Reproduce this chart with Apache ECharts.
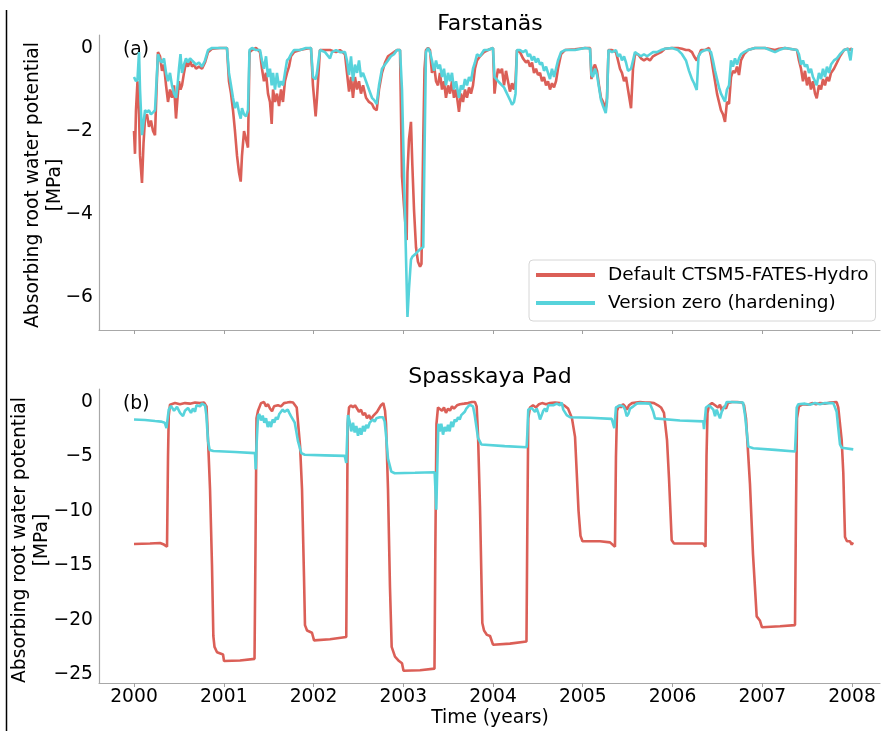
<!DOCTYPE html>
<html>
<head>
<meta charset="utf-8">
<script src="https://cdn.jsdelivr.net/npm/echarts@6/dist/echarts.min.js"></script>
<style>
html,body{margin:0;padding:0;background:#fff;}
#chart{width:882px;height:731px;}
</style>
</head>
<body>
<div id="chart"></div>
<script>
// ---------- DATA ----------
const seriesNames = ['Default CTSM5-FATES-Hydro', 'Version zero (hardening)'];
const panelTitles = ['Farstanäs', 'Spasskaya Pad'];
const panelTags = ['(a)', '(b)'];
const xLabel = 'Time (years)';
const yLabel = 'Absorbing root water potential\n[MPa]';
const xTicks = [2000, 2001, 2002, 2003, 2004, 2005, 2006, 2007, 2008];
const farTicks = [0, -2, -4, -6];
const spaTicks = [0, -5, -10, -15, -20, -25];

// Panel (a) Farstanäs: shared time (decimal years)
const farTime = [
2000.000,2000.011,2000.022,2000.039,2000.056,2000.067,2000.089,2000.106,2000.123,2000.145,2000.167,2000.189,2000.212,2000.234,2000.251,2000.267,2000.290,2000.312,2000.334,2000.357,2000.379,2000.401,2000.423,2000.446,2000.468,2000.485,2000.501,2000.518,2000.535,2000.557,2000.579,2000.602,2000.624,2000.646,2000.669,2000.691,2000.724,2000.758,2000.791,2000.825,2000.869,2000.958,
2001.036,2001.058,2001.081,2001.103,2001.125,2001.148,2001.170,2001.189,2001.203,2001.226,2001.248,2001.270,2001.287,2001.315,2001.359,2001.404,2001.426,2001.448,2001.471,2001.493,2001.515,2001.534,2001.549,2001.571,2001.593,2001.616,2001.638,2001.660,2001.682,2001.705,2001.727,2001.749,2001.783,2001.850,2001.916,2001.972,2001.994,
2002.024,2002.039,2002.056,2002.072,2002.128,2002.184,2002.206,2002.251,2002.295,2002.351,2002.373,2002.396,2002.418,2002.440,2002.462,2002.485,2002.507,2002.529,2002.552,2002.585,2002.618,2002.652,2002.674,2002.704,2002.730,2002.763,2002.797,2002.830,2002.863,2002.897,2002.930,2002.964,2002.986,
2003.008,2003.038,2003.047,2003.064,2003.086,2003.101,2003.120,2003.142,2003.164,2003.187,2003.203,2003.223,2003.237,2003.253,2003.276,2003.298,2003.320,2003.343,2003.365,2003.387,2003.409,2003.432,2003.454,2003.476,2003.499,2003.521,2003.543,2003.565,2003.588,2003.621,2003.643,2003.666,2003.688,2003.710,2003.733,2003.755,2003.777,2003.799,2003.822,2003.855,2003.900,2003.944,
2004.000,2004.017,2004.033,2004.056,2004.078,2004.100,2004.123,2004.145,2004.167,2004.189,2004.212,2004.234,2004.251,2004.267,2004.301,2004.334,2004.368,2004.390,2004.412,2004.435,2004.457,2004.479,2004.501,2004.524,2004.546,2004.568,2004.591,2004.613,2004.635,2004.657,2004.680,2004.702,2004.724,2004.758,2004.802,2004.914,
2005.025,2005.081,2005.097,2005.114,2005.136,2005.159,2005.181,2005.203,2005.226,2005.256,2005.270,2005.287,2005.326,2005.370,2005.393,2005.415,2005.437,2005.460,2005.482,2005.504,2005.538,2005.560,2005.582,2005.616,2005.649,2005.682,2005.716,2005.749,2005.783,2005.827,2005.872,2005.916,2005.994,
2006.061,2006.106,2006.150,2006.184,2006.217,2006.240,2006.270,2006.290,2006.318,2006.362,2006.407,2006.429,2006.451,2006.474,2006.496,2006.518,2006.540,2006.563,2006.585,2006.607,2006.630,2006.652,2006.674,2006.696,2006.719,2006.741,2006.763,2006.797,2006.841,2006.919,
2007.031,2007.142,2007.187,2007.253,2007.387,2007.409,2007.432,2007.454,2007.476,2007.499,2007.521,2007.543,2007.565,2007.588,2007.607,2007.632,2007.655,2007.677,2007.699,2007.721,2007.744,2007.766,2007.799,2007.833,2007.866,2007.911,2007.955,2007.983,2008.000
];
const farDefault = [
-2.0,-2.55,-1.5,-0.8,-1.6,-2.6,-3.25,-2.3,-1.7,-1.6,-1.9,-1.75,-2.0,-2.1,-1.0,-0.1,-0.2,-0.55,-0.4,-0.9,-1.3,-1.0,-1.2,-0.9,-1.7,-1.2,-0.8,-1.0,-0.9,-0.6,-0.35,-0.45,-0.3,-0.45,-0.4,-0.5,-0.45,-0.5,-0.35,-0.1,-0.02,0,
0,-0.8,-1.1,-1.5,-2.0,-2.6,-3.0,-3.22,-2.6,-2.0,-2.2,-2.4,-0.1,-0.05,0,-0.1,-0.5,-0.8,-0.6,-1.1,-1.3,-1.83,-1.0,-1.3,-1.1,-1.4,-1.0,-1.3,-0.8,-0.6,-0.45,-0.2,-0.1,-0.05,-0.02,0,-0.9,
-1.65,-1.2,-0.6,-0.05,-0.05,-0.05,-0.05,-0.1,-0.05,-0.15,-0.6,-1.05,-0.7,-1.2,-0.7,-1.0,-0.8,-1.1,-0.9,-1.2,-1.3,-1.35,-1.45,-1.5,-1.0,-0.6,-0.35,-0.2,-0.15,-0.1,-0.05,-0.05,-3.1,
-3.8,-4.63,-3.0,-2.2,-1.78,-2.8,-3.9,-4.8,-5.15,-5.27,-5.2,-2.2,-0.5,-0.05,0,-0.05,-0.6,-0.4,-0.8,-0.9,-0.6,-1.0,-0.8,-1.2,-0.9,-1.1,-0.8,-1.2,-1.0,-1.54,-1.1,-1.3,-1.0,-1.2,-0.95,-1.1,-0.9,-0.5,-0.3,-0.2,-0.1,-0.05,
0,-1.1,-0.8,-0.5,-0.6,-0.5,-0.9,-0.55,-0.8,-1.05,-0.85,-1.0,-0.8,-0.05,-0.1,-0.25,-0.35,-0.3,-0.45,-0.35,-0.6,-0.5,-0.65,-0.6,-0.8,-0.7,-0.9,-0.8,-1.0,-0.85,-0.95,-0.8,-0.5,-0.15,-0.05,-0.03,
0,0,-0.75,-0.5,-0.4,-0.55,-0.9,-1.2,-1.3,-1.45,-1.2,-0.05,-0.05,-0.1,-0.3,-0.5,-0.6,-0.8,-0.7,-1.0,-1.45,-0.5,-0.15,-0.15,-0.25,-0.3,-0.25,-0.3,-0.2,-0.15,-0.1,-0.02,0,
0,-0.02,-0.05,-0.05,-0.1,-0.2,-0.3,-0.2,-0.05,-0.05,0,-0.2,-0.5,-0.8,-1.1,-1.3,-1.5,-1.6,-1.78,-1.3,-1.35,-0.7,-0.55,-0.6,-0.45,-0.65,-0.3,-0.15,-0.05,0,
0,-0.05,-0.02,0,-0.05,-0.3,-0.5,-0.8,-0.55,-0.9,-0.7,-1.0,-0.8,-1.1,-1.21,-0.9,-1.0,-0.75,-0.9,-0.7,-0.8,-0.6,-0.5,-0.35,-0.2,-0.05,-0.02,-0.05,0
];
const farVersion = [
-0.7,-0.75,-0.8,-0.75,-0.1,-1.0,-2.1,-1.8,-1.5,-1.55,-1.5,-1.6,-1.55,-1.5,-0.8,-0.15,-0.3,-0.35,-0.25,-0.6,-0.8,-0.6,-0.9,-1.1,-1.2,-0.9,-0.5,-0.15,-0.6,-0.4,-0.25,-0.35,-0.25,-0.3,-0.35,-0.4,-0.35,-0.45,-0.3,-0.05,0,0,
0,-0.6,-0.9,-1.2,-1.45,-1.3,-1.55,-1.7,-1.45,-1.6,-1.65,-1.5,-0.05,0,-0.05,-0.05,-0.3,-0.5,-0.2,-0.7,-0.5,-0.9,-0.6,-1.0,-0.6,-0.95,-0.8,-0.9,-0.6,-0.3,-0.25,-0.15,-0.05,-0.05,0,0,-0.7,
-0.75,-0.6,-0.3,-0.05,-0.1,-0.25,-0.1,-0.05,-0.1,-0.1,-0.3,-0.65,-0.2,-0.8,-0.4,-0.6,-0.3,-0.7,-0.6,-0.8,-1.0,-1.2,-1.25,-1.35,-0.9,-0.5,-0.4,-0.3,-0.2,-0.15,-0.05,-0.05,-1.0,
-3.0,-5.7,-6.48,-5.8,-5.1,-5.03,-5.0,-4.95,-4.9,-4.85,-4.82,-4.8,-2.5,-0.1,0,-0.1,-0.3,-0.55,-0.3,-0.5,-0.4,-0.7,-0.5,-0.9,-0.6,-0.8,-0.6,-1.0,-0.8,-1.2,-0.9,-1.0,-0.75,-0.9,-0.7,-0.8,-0.5,-0.35,-0.15,-0.2,-0.05,-0.05,
0,-0.7,-0.73,-0.8,-0.85,-0.9,-0.95,-1.05,-1.15,-1.25,-1.37,-1.3,-1.1,-0.05,-0.05,-0.1,-0.05,-0.2,-0.15,-0.3,-0.2,-0.35,-0.25,-0.4,-0.35,-0.55,-0.45,-0.6,-0.75,-0.5,-0.7,-0.5,-0.3,-0.1,-0.05,-0.05,
0,-0.02,-0.65,-0.7,-0.5,-0.65,-0.95,-1.25,-1.4,-1.57,-1.3,-0.05,-0.1,-0.05,-0.2,-0.15,-0.3,-0.2,-0.35,-0.55,-0.5,-0.3,-0.1,-0.15,-0.2,-0.15,-0.2,-0.15,-0.1,-0.1,-0.05,-0.02,0,
-0.05,-0.15,-0.3,-0.55,-0.75,-0.85,-1.01,-0.2,-0.1,-0.05,-0.05,-0.1,-0.3,-0.55,-0.75,-0.95,-1.1,-1.2,-1.29,-1.0,-0.9,-0.3,-0.45,-0.25,-0.4,-0.25,-0.15,-0.1,-0.05,0,
0,-0.1,-0.05,0,-0.05,-0.15,-0.4,-0.3,-0.45,-0.4,-0.6,-0.5,-0.7,-0.8,-0.9,-0.6,-0.75,-0.5,-0.7,-0.45,-0.6,-0.4,-0.3,-0.25,-0.15,-0.05,-0.02,-0.3,0
];

// Panel (b) Spasskaya Pad
const spaTimeDefault = [
2000.000,2000.178,2000.290,2000.334,2000.368,2000.379,2000.387,2000.401,2000.457,2000.513,2000.568,2000.624,2000.680,2000.735,2000.780,2000.808,2000.825,2000.847,2000.869,2000.884,2000.897,2000.925,2000.992,
2001.003,2001.181,2001.343,2001.354,2001.365,2001.382,2001.415,2001.448,2001.471,2001.493,2001.515,2001.538,2001.560,2001.582,2001.604,2001.638,2001.671,2001.705,2001.738,2001.772,2001.794,2001.813,2001.850,2001.872,2001.894,2001.905,2001.928,2001.983,
2002.006,2002.184,2002.365,2002.373,2002.381,2002.396,2002.418,2002.440,2002.462,2002.485,2002.507,2002.529,2002.552,2002.574,2002.596,2002.618,2002.641,2002.663,2002.685,2002.708,2002.730,2002.752,2002.778,2002.797,2002.808,2002.830,2002.852,2002.871,2002.908,2002.953,2002.986,
2003.003,2003.187,2003.348,2003.357,2003.370,2003.387,2003.409,2003.432,2003.454,2003.476,2003.499,2003.521,2003.543,2003.565,2003.599,2003.632,2003.677,2003.721,2003.766,2003.799,2003.818,2003.833,2003.855,2003.881,2003.900,2003.933,2003.967,
2004.000,2004.189,2004.373,2004.382,2004.393,2004.412,2004.446,2004.479,2004.513,2004.546,2004.591,2004.635,2004.691,2004.746,2004.791,2004.836,2004.880,2004.914,2004.933,2004.953,2004.975,2004.997,
2005.192,2005.304,2005.359,2005.370,2005.382,2005.404,2005.426,2005.448,2005.471,2005.493,2005.515,2005.549,2005.593,2005.638,2005.694,2005.749,2005.794,2005.838,2005.872,2005.905,2005.939,2005.961,2005.991,
2006.017,2006.195,2006.340,2006.368,2006.379,2006.390,2006.407,2006.440,2006.474,2006.507,2006.529,2006.551,2006.574,2006.596,2006.618,2006.663,2006.719,2006.774,2006.797,2006.819,2006.863,2006.897,2006.938,2006.975,2006.997,
2007.198,2007.365,2007.376,2007.387,2007.409,2007.454,2007.510,2007.554,2007.599,2007.643,2007.699,2007.755,2007.829,2007.847,2007.885,2007.903,2007.922,2007.944,2007.978,2007.997,2008.011
];
const spaDefault = [
-13.05,-13.0,-12.95,-13.1,-13.3,-5.0,-1.3,-0.25,-0.1,-0.2,-0.1,-0.15,-0.05,-0.1,-0.05,-0.4,-3.5,-8.0,-15.0,-21.5,-22.5,-23.0,-23.2,
-23.8,-23.75,-23.6,-13.0,-1.5,-0.8,-0.1,0,-0.4,-0.2,-0.6,-0.85,-0.4,-0.55,-0.3,-0.4,-0.1,-0.05,0,-0.05,0,-0.5,-4.0,-8.0,-16.0,-20.5,-21.0,-21.2,
-21.9,-21.8,-21.6,-12.0,-2.0,-0.5,-0.3,-0.5,-0.3,-0.6,-0.9,-0.7,-1.2,-1.0,-1.5,-1.2,-1.6,-1.3,-1.4,-0.9,-0.6,-0.3,-0.1,-0.8,-2.0,-8.0,-17.0,-22.5,-23.4,-23.8,-24.0,
-24.7,-24.65,-24.5,-14.0,-2.0,-0.5,-0.4,-0.8,-0.5,-1.0,-0.6,-0.8,-0.4,-0.6,-0.3,-0.2,-0.15,-0.1,0,0,-0.4,-3.0,-9.6,-20.3,-21.0,-21.4,-21.5,
-22.3,-22.2,-22.0,-12.0,-1.5,-0.5,-0.3,-0.5,-0.2,-0.1,-0.2,-0.1,-0.05,-0.1,-0.3,-0.6,-1.5,-3.2,-6.5,-10.0,-12.3,-12.8,
-12.8,-12.9,-13.3,-5.0,-0.8,-0.3,-0.5,-0.2,-0.4,-0.7,-0.3,-0.1,-0.05,0,-0.05,-0.05,-0.1,-0.3,-0.5,-1.0,-3.5,-7.0,-12.7,
-13.0,-13.0,-13.0,-13.3,-5.0,-1.0,-0.3,-0.1,-0.3,-0.5,-0.25,-0.8,-0.4,-0.6,-0.1,0,0,-0.05,-0.3,-1.5,-7.5,-14.0,-19.7,-20.1,-20.7,
-20.6,-20.5,-10.0,-1.5,-0.4,-0.2,-0.25,-0.1,-0.2,-0.1,-0.15,-0.05,0,-0.5,-3.5,-6.5,-12.4,-12.8,-12.8,-13.1,-12.9
];
const spaTimeVersion = [
2000.000,2000.123,2000.234,2000.301,2000.342,2000.362,2000.387,2000.412,2000.446,2000.479,2000.513,2000.546,2000.568,2000.602,2000.635,2000.657,2000.680,2000.696,2000.735,2000.758,2000.769,2000.791,2000.806,2000.825,2000.843,2000.884,
2001.125,2001.348,2001.356,2001.365,2001.382,2001.396,2001.415,2001.434,2001.452,2001.471,2001.490,2001.508,2001.526,2001.545,2001.563,2001.582,2001.601,2001.619,2001.638,2001.657,2001.675,2001.694,2001.713,2001.730,2001.749,2001.791,2001.808,2001.827,2001.864,2001.902,
2002.128,2002.348,2002.365,2002.384,2002.403,2002.421,2002.440,2002.459,2002.477,2002.496,2002.515,2002.533,2002.552,2002.570,2002.588,2002.607,2002.626,2002.644,2002.663,2002.682,2002.700,2002.719,2002.738,2002.755,2002.774,2002.793,2002.811,2002.830,2002.867,2002.905,
2003.131,2003.350,2003.368,2003.391,2003.406,2003.424,2003.443,2003.462,2003.480,2003.499,2003.517,2003.535,2003.554,2003.573,2003.591,2003.610,2003.629,2003.647,2003.685,2003.703,2003.721,2003.740,2003.758,2003.777,2003.796,2003.833,2003.870,
2004.130,2004.375,2004.382,2004.393,2004.431,2004.468,2004.487,2004.505,2004.524,2004.543,2004.560,2004.579,2004.598,2004.616,2004.635,2004.672,2004.710,2004.746,2004.765,2004.783,2004.821,2004.858,
2005.081,2005.323,2005.352,2005.370,2005.415,2005.452,2005.471,2005.490,2005.508,2005.527,2005.564,2005.601,2005.638,2005.749,2005.786,2005.805,2005.824,
2006.083,2006.343,2006.351,2006.373,2006.407,2006.429,2006.455,2006.474,2006.492,2006.510,2006.529,2006.548,2006.566,2006.585,2006.604,2006.641,2006.786,2006.808,2006.845,2006.900,
2007.142,2007.365,2007.376,2007.384,2007.401,2007.476,2007.532,2007.588,2007.643,2007.699,2007.792,2007.829,2007.847,2007.866,2007.885,2008.014
];
const spaVersion = [
-1.6,-1.65,-1.75,-1.8,-1.9,-2.4,-0.7,-0.35,-0.8,-0.45,-1.0,-1.3,-0.8,-0.55,-1.0,-0.6,-0.9,-0.3,-0.4,-0.15,-0.15,-0.3,-1.2,-3.6,-4.4,-4.5,
-4.6,-4.7,-6.2,-4.0,-1.3,-1.1,-1.7,-1.25,-1.9,-1.5,-2.3,-1.8,-2.3,-1.6,-1.9,-1.4,-1.6,-1.1,-0.9,-0.7,-0.9,-1.0,-0.7,-1.0,-1.3,-1.9,-2.7,-3.6,-4.7,-4.85,
-4.9,-4.95,-5.6,-1.2,-1.8,-2.7,-1.9,-2.8,-2.2,-3.1,-2.4,-3.0,-2.2,-2.7,-2.1,-2.4,-1.9,-2.0,-1.6,-1.8,-1.5,-1.6,-1.4,-1.5,-1.4,-1.8,-3.3,-5.2,-6.4,-6.55,
-6.5,-6.45,-9.9,-2.0,-2.7,-2.0,-3.0,-2.3,-2.7,-2.1,-2.7,-1.8,-2.3,-1.6,-1.8,-1.4,-1.6,-1.2,-0.9,-0.6,-0.45,-0.25,-0.25,-0.4,-1.2,-3.3,-3.9,
-4.05,-4.15,-3.0,-0.7,-0.55,-0.9,-0.6,-1.0,-1.6,-1.2,-0.8,-0.6,-0.9,-0.3,-0.45,-0.3,-0.15,-0.3,-0.05,-0.7,-1.2,-1.4,
-1.45,-1.55,-2.4,-0.5,-0.3,-0.4,-0.7,-1.3,-1.1,-0.6,-0.4,-0.15,-0.1,-0.15,-0.9,-1.5,-1.65,
-1.7,-1.78,-2.5,-0.5,-0.3,-0.2,-0.7,-1.3,-0.7,-1.1,-1.5,-0.9,-0.6,-0.4,0,0,-0.05,-1.2,-4.1,-4.25,
-4.4,-4.55,-2.5,-0.5,-0.2,-0.15,-0.25,-0.1,-0.2,-0.1,-0.1,-0.9,-2.4,-3.9,-4.2,-4.35
];

// ---------- CHART ----------
const FONT = 'DejaVu Sans';
const RED = '#db5f57', CYAN = '#57d3db';
const zip = (t, v) => t.map((x, i) => [x, v[i]]);
const minus = v => String(v).replace('-', '\u2212');
const plain = v => String(v);

const chart = echarts.init(document.getElementById('chart'), null, {renderer: 'canvas'});

function xAxisCfg(gi, showLabels) {
  return {
    type: 'value', gridIndex: gi, min: 1999.61, max: 2008.312,
    axisLine: {show: true, onZero: false, lineStyle: {color: '#a8a8a8', width: 1.2}},
    axisTick: {show: true, customValues: xTicks, length: 4, lineStyle: {color: '#a0a0a0', width: 1}},
    axisLabel: {show: showLabels, customValues: xTicks, fontSize: 18.7, fontFamily: FONT, color: '#000', margin: 5, formatter: plain},
    splitLine: {show: false}
  };
}
function yAxisCfg(gi, mn, mx, ticks) {
  return {
    type: 'value', gridIndex: gi, min: mn, max: mx,
    axisLine: {show: true, onZero: false, lineStyle: {color: '#a8a8a8', width: 1.2}},
    axisTick: {show: false},
    axisLabel: {customValues: ticks, fontSize: 18.7, fontFamily: FONT, color: '#000', margin: 6, formatter: minus},
    splitLine: {show: false}
  };
}
function lineSeries(name, xi, data, color, z) {
  return {
    name: name, type: 'line', xAxisIndex: xi, yAxisIndex: xi, data: data,
    showSymbol: false, symbol: 'none', z: z,
    lineStyle: {color: color, width: 2.6}, itemStyle: {color: color}
  };
}

const option = {
  animation: false,
  backgroundColor: '#fff',
  grid: [
    {left: 99, top: 35, width: 781, height: 295},
    {left: 99, top: 389, width: 781, height: 294}
  ],
  xAxis: [xAxisCfg(0, false), xAxisCfg(1, true)],
  yAxis: [yAxisCfg(0, -6.795, 0.313, farTicks), yAxisCfg(1, -25.82, 1.196, spaTicks)],
  legend: {
    data: seriesNames, orient: 'vertical', left: 529, top: 260,
    icon: 'rect', itemWidth: 59, itemHeight: 4, itemGap: 8,
    padding: [5, 7, 8, 7],
    backgroundColor: '#fff', borderColor: '#d6d6d6', borderWidth: 1, borderRadius: 4,
    textStyle: {fontSize: 18.5, fontFamily: FONT, color: '#000', lineHeight: 20, padding: [0, 0, 0, 8]}
  },
  series: [
    lineSeries(seriesNames[0], 0, zip(farTime, farDefault), RED, 2),
    lineSeries(seriesNames[1], 0, zip(farTime, farVersion), CYAN, 3),
    lineSeries(seriesNames[0], 1, zip(spaTimeDefault, spaDefault), RED, 2),
    lineSeries(seriesNames[1], 1, zip(spaTimeVersion, spaVersion), CYAN, 3)
  ],
  graphic: [
    {type: 'line', shape: {x1: 6.5, y1: 10, x2: 6.5, y2: 731}, style: {stroke: '#000', lineWidth: 1.5}},
    {type: 'text', x: 490, y: 24, style: {text: panelTitles[0], font: '22px "DejaVu Sans"', fill: '#000', align: 'center', verticalAlign: 'middle'}},
    {type: 'text', x: 490, y: 377, style: {text: panelTitles[1], font: '22px "DejaVu Sans"', fill: '#000', align: 'center', verticalAlign: 'middle'}},
    {type: 'text', x: 123, y: 50, style: {text: panelTags[0], font: '18.7px "DejaVu Sans"', fill: '#000', align: 'left', verticalAlign: 'middle'}},
    {type: 'text', x: 123, y: 404, style: {text: panelTags[1], font: '18.7px "DejaVu Sans"', fill: '#000', align: 'left', verticalAlign: 'middle'}},
    {type: 'text', x: 44, y: 185, rotation: Math.PI / 2, style: {text: yLabel, font: '18.7px "DejaVu Sans"', fill: '#000', align: 'center', verticalAlign: 'middle', lineHeight: 22}},
    {type: 'text', x: 31.5, y: 540, rotation: Math.PI / 2, style: {text: yLabel, font: '18.7px "DejaVu Sans"', fill: '#000', align: 'center', verticalAlign: 'middle', lineHeight: 22}},
    {type: 'text', x: 490, y: 718, style: {text: xLabel, font: '18.7px "DejaVu Sans"', fill: '#000', align: 'center', verticalAlign: 'middle'}}
  ]
};
chart.setOption(option);
</script>
</body>
</html>
